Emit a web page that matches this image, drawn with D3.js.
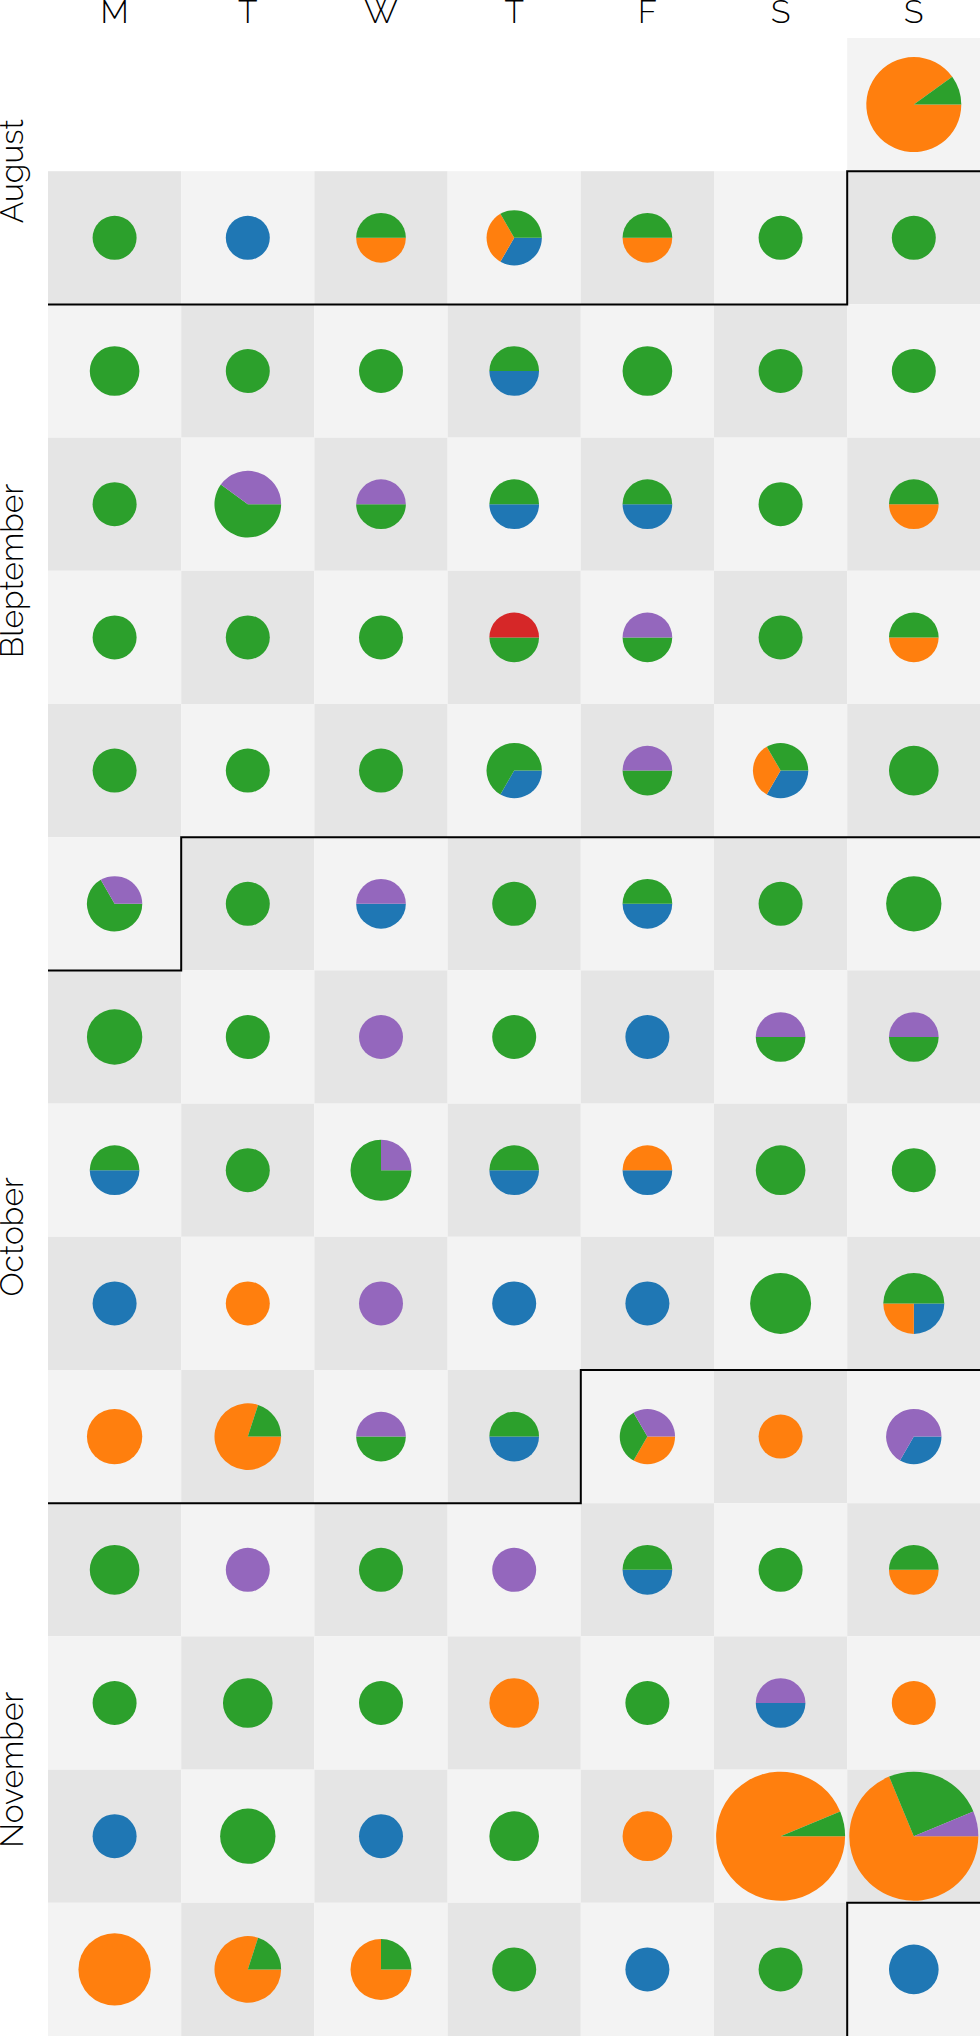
<!DOCTYPE html>
<html lang="en">
<head>
    <meta charset="utf-8"/>
    <title>Calendar</title>
    <script src="https://d3js.org/d3.v7.min.js"></script>
    <style>
        body {
            margin: 0;
            background: #fff;
        }

        svg {
            display: block;
        }

        text {
            font-family: Raleway, Lato, "Open Sans", sans-serif;
            font-weight: 300;
            font-size: 32px;
            fill: #000;
        }
    </style>
</head>
<body>
<svg></svg>
<script>
    // first day shown, one value per day from here on
    const startDay = new Date(Date.UTC(2019, 7, 25));

    const dayLabels = ["M", "T", "W", "T", "F", "S", "S"];
    const monthNames = ["January", "February", "March", "April", "May", "June", "July",
        "August", "Bleptember", "October", "November", "December"];

    const categories = ["blue", "orange", "green", "red", "purple"];
    const colors = ["#1f77b4", "#ff7f0e", "#2ca02c", "#d62728", "#9467bd"];

    // counts per day, one line per week (Mon..Sun), first line is Sun 25 Aug only
    const blue = [
        0,
        0, 1, 0, 1, 0, 0, 0,
        0, 0, 0, 1, 0, 0, 0,
        0, 0, 0, 1, 1, 0, 0,
        0, 0, 0, 0, 0, 0, 0,
        0, 0, 0, 1, 0, 1, 0,
        0, 0, 1, 0, 1, 0, 0,
        0, 0, 0, 0, 1, 0, 0,
        1, 0, 0, 1, 1, 0, 0,
        1, 0, 0, 1, 1, 0, 1,
        0, 0, 0, 1, 0, 0, 1,
        0, 0, 0, 0, 1, 0, 0,
        0, 0, 0, 0, 0, 1, 0,
        1, 0, 1, 0, 0, 0, 0,
        0, 0, 0, 0, 1, 0, 2
    ];
    const orange = [
        9,
        0, 0, 1, 1, 1, 0, 0,
        0, 0, 0, 0, 0, 0, 0,
        0, 0, 0, 0, 0, 0, 1,
        0, 0, 0, 0, 0, 0, 1,
        0, 0, 0, 0, 0, 1, 0,
        0, 0, 0, 0, 0, 0, 0,
        0, 0, 0, 0, 0, 0, 0,
        0, 0, 0, 0, 1, 0, 0,
        0, 1, 0, 0, 0, 0, 1,
        3, 4, 0, 0, 1, 1, 0,
        0, 0, 0, 0, 0, 0, 1,
        0, 0, 0, 2, 0, 0, 1,
        0, 0, 0, 0, 2, 15, 11,
        6, 4, 3, 0, 0, 0, 0
    ];
    const green = [
        1,
        1, 0, 1, 1, 1, 1, 1,
        2, 1, 1, 1, 2, 1, 1,
        1, 3, 1, 1, 1, 1, 1,
        1, 1, 1, 1, 1, 1, 1,
        1, 1, 1, 2, 1, 1, 2,
        2, 1, 0, 1, 1, 1, 3,
        3, 1, 0, 1, 0, 1, 1,
        1, 1, 3, 1, 0, 2, 1,
        0, 0, 0, 0, 0, 4, 2,
        0, 1, 1, 1, 1, 0, 0,
        2, 0, 1, 0, 1, 1, 1,
        1, 2, 1, 0, 1, 0, 0,
        0, 3, 0, 2, 0, 1, 4,
        0, 1, 1, 1, 0, 1, 0
    ];
    const red = [
        0,
        0, 0, 0, 0, 0, 0, 0,
        0, 0, 0, 0, 0, 0, 0,
        0, 0, 0, 0, 0, 0, 0,
        0, 0, 0, 1, 0, 0, 0,
        0, 0, 0, 0, 0, 0, 0,
        0, 0, 0, 0, 0, 0, 0,
        0, 0, 0, 0, 0, 0, 0,
        0, 0, 0, 0, 0, 0, 0,
        0, 0, 0, 0, 0, 0, 0,
        0, 0, 0, 0, 0, 0, 0,
        0, 0, 0, 0, 0, 0, 0,
        0, 0, 0, 0, 0, 0, 0,
        0, 0, 0, 0, 0, 0, 0,
        0, 0, 0, 0, 0, 0, 0
    ];
    const purple = [
        0,
        0, 0, 0, 0, 0, 0, 0,
        0, 0, 0, 0, 0, 0, 0,
        0, 2, 1, 0, 0, 0, 0,
        0, 0, 0, 0, 1, 0, 0,
        0, 0, 0, 0, 1, 0, 0,
        1, 0, 1, 0, 0, 0, 0,
        0, 0, 1, 0, 0, 1, 1,
        0, 0, 1, 0, 0, 0, 0,
        0, 0, 1, 0, 0, 0, 0,
        0, 0, 1, 0, 1, 0, 2,
        0, 1, 0, 1, 0, 0, 0,
        0, 0, 0, 0, 0, 1, 0,
        0, 0, 0, 0, 0, 0, 1,
        0, 0, 0, 0, 0, 0, 0
    ];

    const series = [blue, orange, green, red, purple];

    const width = 980, height = 2036;
    const marginLeft = 48, marginTop = 38, cell = 133.2;

    const svg = d3.select("svg").attr("width", width).attr("height", height);

    const firstMonday = d3.utcMonday.floor(startDay);
    const days = blue.map((_, i) => {
        const date = d3.utcDay.offset(startDay, i);
        const values = categories.map((c, k) => ({cat: c, color: colors[k], value: series[k][i]}));
        return {
            date: date,
            col: (date.getUTCDay() + 6) % 7,
            row: d3.utcMonday.count(firstMonday, date),
            values: values,
            total: d3.sum(values, v => v.value)
        };
    });
    const rowCount = d3.max(days, d => d.row) + 1;

    const x = d3.scaleLinear().domain([0, 7]).range([marginLeft, marginLeft + 7 * cell]);
    const y = d3.scaleLinear().domain([0, rowCount]).range([marginTop, marginTop + rowCount * cell]);
    const r = d3.scaleLinear().domain(d3.extent(days, d => d.total)).range([22, 64.5]);

    const pie = d3.pie()
        .sort(null)
        .value(v => v.value)
        .startAngle(Math.PI / 2)
        .endAngle(Math.PI / 2 + 2 * Math.PI);

    // day letters
    svg.append("g").selectAll("text")
        .data(dayLabels)
        .enter()
        .append("text")
        .attr("x", (d, i) => x(i + 0.5))
        .attr("y", 23)
        .attr("text-anchor", "middle")
        .text(d => d);

    // checkerboard
    svg.append("g").selectAll("rect")
        .data(days)
        .enter()
        .append("rect")
        .attr("x", d => x(d.col))
        .attr("y", d => y(d.row))
        .attr("width", x(1) - x(0))
        .attr("height", y(1) - y(0))
        .attr("fill", d => (d.row + d.col) % 2 === 0 ? "#f3f3f3" : "#e5e5e5");

    // pies
    const cells = svg.append("g").selectAll("g")
        .data(days)
        .enter()
        .append("g")
        .attr("transform", d => `translate(${x(d.col + 0.5)},${y(d.row + 0.5)})`);

    cells.selectAll("path")
        .data(d => pie(d.values.filter(v => v.value > 0))
            .map(a => Object.assign(a, {radius: r(d.total)})))
        .enter()
        .append("path")
        .attr("fill", a => a.data.color)
        .attr("d", a => d3.arc().innerRadius(0).outerRadius(a.radius)(a));

    // month separators, only between months (no outer border)
    const starts = days.filter((d, i) => i > 0 && d.date.getUTCDate() === 1);
    svg.append("g").selectAll("path")
        .data(starts)
        .enter()
        .append("path")
        .attr("fill", "none")
        .attr("stroke", "#000")
        .attr("stroke-width", 2)
        .attr("d", d => {
            if (d.col === 0) return `M${x(0)},${y(d.row)}H${x(7)}`;
            const lower = d.row + 1 < rowCount
                ? `M${x(0)},${y(d.row + 1)}H${x(d.col)}`
                : `M${x(d.col)},${y(d.row + 1)}`;
            return `${lower}V${y(d.row)}H${x(7)}`;
        });

    // month labels
    const months = d3.groups(days, d => d.date.getUTCMonth())
        .filter(g => monthNames[g[0]] !== "December")
        .map(g => {
            const first = g[1][0].row, last = g[1][g[1].length - 1].row;
            return {name: monthNames[g[0]], pos: Math.min(first + 3, last)};
        });

    svg.append("g").selectAll("text")
        .data(months)
        .enter()
        .append("text")
        .attr("transform", d => `translate(23,${y(d.pos)}) rotate(-90)`)
        .attr("text-anchor", "middle")
        .text(d => d.name);
</script>
</body>
</html>
